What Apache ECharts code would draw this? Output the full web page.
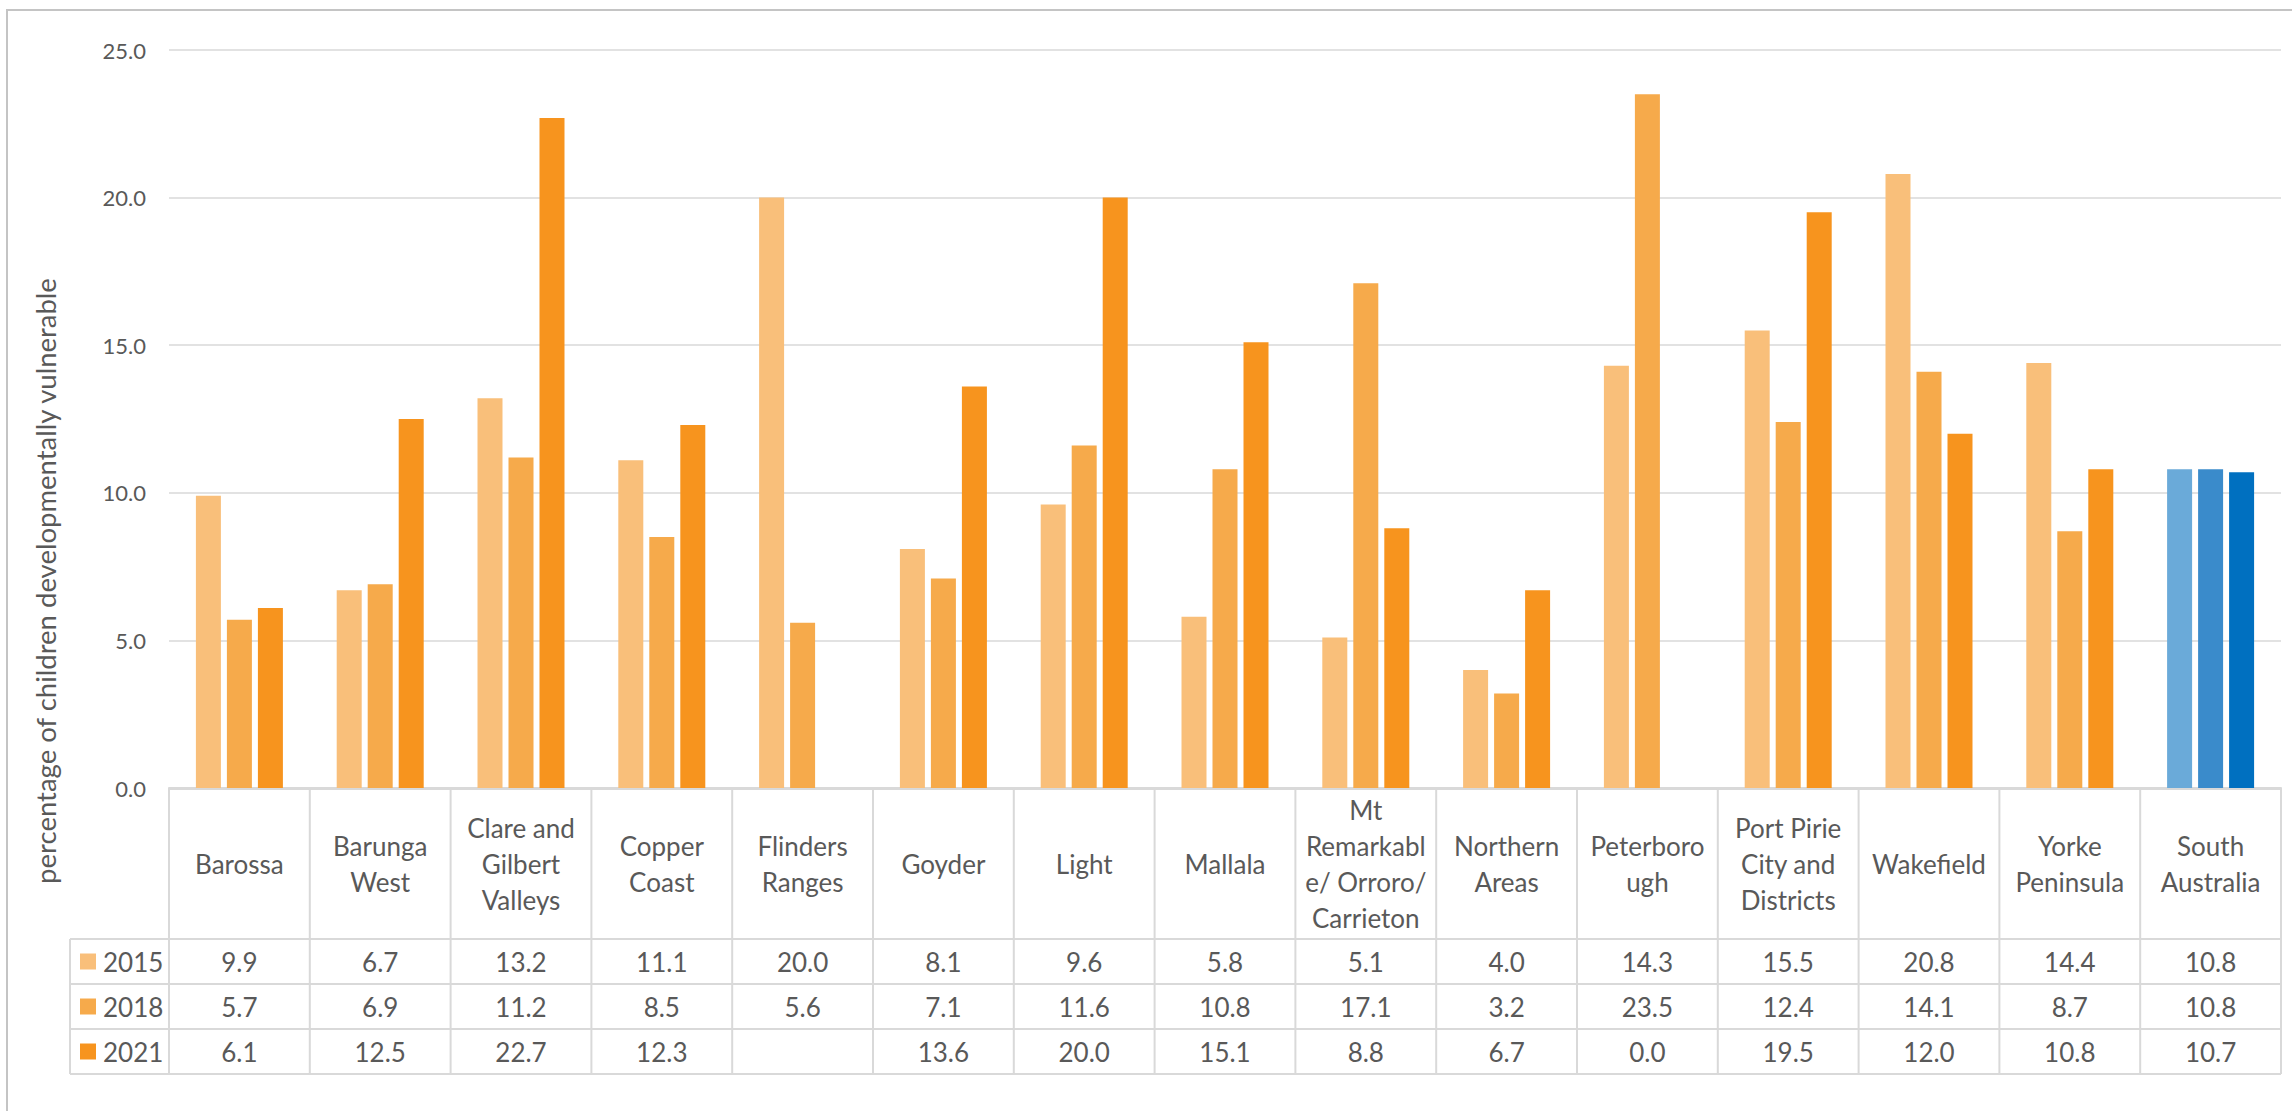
<!DOCTYPE html>
<html><head><meta charset="utf-8">
<script src="https://cdn.jsdelivr.net/npm/echarts@6/dist/echarts.min.js"></script>
<style>html,body{margin:0;padding:0;background:#fff;overflow:hidden}#c{width:2292px;height:1111px}</style>
</head><body><div id="c"></div>
<script>
// ---- data ----
const categories = ['Barossa','Barunga\nWest','Clare and\nGilbert\nValleys','Copper\nCoast','Flinders\nRanges','Goyder','Light','Mallala','Mt\nRemarkabl\ne/ Orroro/\nCarrieton','Northern\nAreas','Peterboro\nugh','Port Pirie\nCity and\nDistricts','Wakefield','Yorke\nPeninsula','South\nAustralia'];
const years = ['2015','2018','2021'];
const values2015 = [9.9,6.7,13.2,11.1,20.0,8.1,9.6,5.8,5.1,4.0,14.3,15.5,20.8,14.4,10.8];
const values2018 = [5.7,6.9,11.2,8.5,5.6,7.1,11.6,10.8,17.1,3.2,23.5,12.4,14.1,8.7,10.8];
const values2021 = [6.1,12.5,22.7,12.3,null,13.6,20.0,15.1,8.8,6.7,0.0,19.5,12.0,10.8,10.7];
const yTicks = [0,5,10,15,20,25];
const axisTitle = 'percentage of children developmentally vulnerable';

// ---- style ----
const seriesVals = [values2015, values2018, values2021];
const orangeColors = ['#F9BF7A','#F6AA4B','#F7941E'];
const blueColors = ['#6AAAD9','#3A8BCB','#0070C0'];
const FONT = 'Lato, "Open Sans", sans-serif';
const TEXT = '#595959';
const LINE = '#D9D9D9';
const G = {left:169, top:50, right:2281, bottom:788};
const headerBottom = 939, rowH = 45, rowLabelLeft = 70;

const chart = echarts.init(document.getElementById('c'), null, {renderer:'svg'});

function barData(vals, k){
  return vals.map((v,i)=> categories[i]==='South\nAustralia' ? {value:v, itemStyle:{color:blueColors[k]}} : v);
}

chart.setOption({
  animation:false,
  backgroundColor:'#fff',
  grid:{left:G.left, top:G.top, width:G.right-G.left, height:G.bottom-G.top, containLabel:false},
  xAxis:{type:'category', data:categories, axisLabel:{show:false}, axisTick:{show:false},
         axisLine:{lineStyle:{color:LINE,width:2}}},
  yAxis:{type:'value', min:yTicks[0], max:yTicks[yTicks.length-1], interval:5,
         axisLabel:{formatter:v=>v.toFixed(1), color:TEXT, fontSize:22, fontFamily:FONT, margin:23},
         splitLine:{lineStyle:{color:LINE,width:1.5}}, axisLine:{show:false}, axisTick:{show:false}},
  series: years.map((y,k)=>({type:'bar', name:y, data:barData(seriesVals[k],k),
          barWidth:25, barGap:'24%', itemStyle:{color:orangeColors[k]}}))
});

// ---- data table built from axis positions ----
const n = categories.length;
const centers = categories.map((c,i)=>chart.convertToPixel({xAxisIndex:0}, i));
const cw = (G.right-G.left)/n;
const tableBottom = headerBottom + rowH*years.length;
const g = [];
function line(x1,y1,x2,y2){ g.push({type:'line', silent:true, shape:{x1,y1,x2,y2}, style:{stroke:LINE, lineWidth:2}}); }
function text(t,x,y,align){ g.push({type:'text', silent:true, style:{text:t, x, y, align:align||'center', verticalAlign:'middle', fill:TEXT, fontSize:26, fontFamily:FONT, lineHeight:36}}); }

// outer border
g.push({type:'rect', silent:true, z:-10, shape:{x:7,y:10,width:2400,height:1200}, style:{fill:'none', stroke:'#C4C4C4', lineWidth:2}});
// horizontal lines
line(G.left, G.bottom+1, G.right, G.bottom+1);
for (let r=0;r<=years.length;r++){ const y = headerBottom + r*rowH; line(rowLabelLeft, y, G.right, y); }
// vertical lines
for (let i=0;i<=n;i++){ const x = (i<n ? centers[i]-cw/2 : centers[n-1]+cw/2); line(x, G.bottom, x, tableBottom); }
line(rowLabelLeft, headerBottom, rowLabelLeft, tableBottom);
// header labels
categories.forEach((c,i)=>text(c, centers[i], (G.bottom+headerBottom)/2));
// rows
years.forEach((y,k)=>{
  const cy = headerBottom + rowH*k + rowH/2;
  g.push({type:'rect', silent:true, shape:{x:80, y:cy-8, width:16, height:16}, style:{fill:orangeColors[k]}});
  text(y, 103, cy, 'left');
  seriesVals[k].forEach((v,i)=>{ if (v!==null) text(v.toFixed(1), centers[i], cy); });
});
// axis title
g.push({type:'text', silent:true, x:45, y:581, rotation:Math.PI/2,
  style:{text:axisTitle, x:0, y:0, align:'center', verticalAlign:'middle', fill:TEXT, fontSize:27.5, fontFamily:FONT}});

chart.setOption({graphic:g});
</script></body></html>
